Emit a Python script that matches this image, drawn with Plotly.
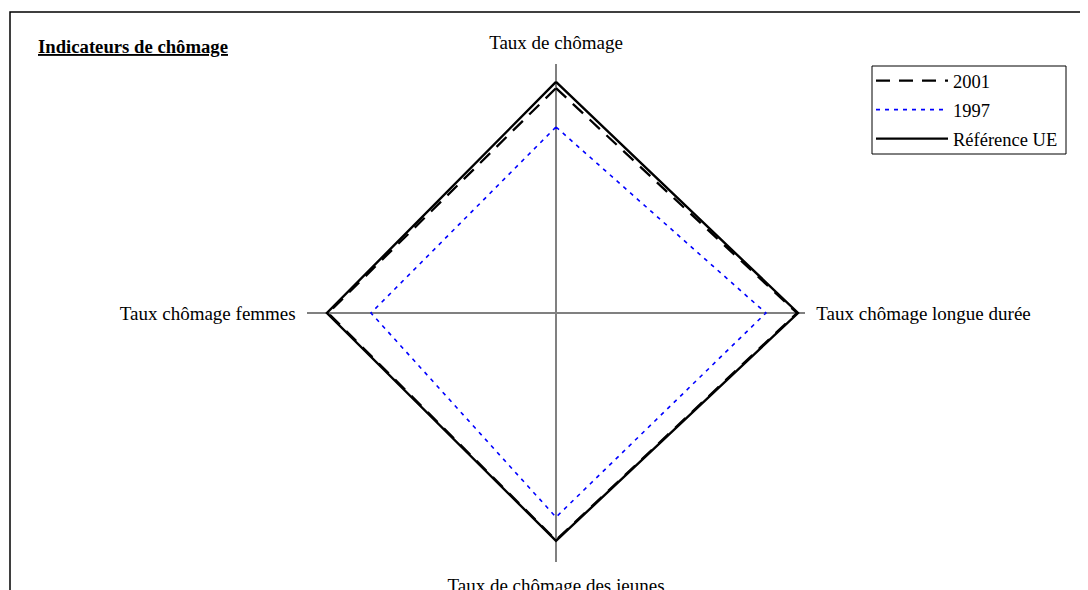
import plotly.graph_objects as go

categories = ["Taux de chômage", "Taux chômage longue durée", "Taux de chômage des jeunes", "Taux chômage femmes"]
values_2001 = [90.3, 96.8, 91.2, 91.5]
values_1997 = [74.7, 84.3, 82.0, 74.3]
values_ue = [92.8, 97.2, 91.5, 92.0]
series_names = ["2001", "1997", "Référence UE"]

W, H = 1088, 590
OFF = 8  # page body margin
cx, cy, R = 556 - OFF, 313 - OFF, 249

def closed(v):
    return list(v) + [v[0]]

theta = closed(categories)

fig = go.Figure()
fig.add_trace(go.Scatterpolar(r=closed(values_2001), theta=theta, mode="lines", name=series_names[0],
                              legendgroup="a",
                              line=dict(color="black", width=2.3, dash="14px,9px")))
fig.add_trace(go.Scatterpolar(r=closed(values_1997), theta=theta, mode="lines", name=series_names[1],
                              legendgroup="b",
                              line=dict(color="#0000FF", width=1.6, dash="4px,5px")))
fig.add_trace(go.Scatterpolar(r=closed(values_ue), theta=theta, mode="lines", name=series_names[2],
                              legendgroup="c",
                              line=dict(color="black", width=2.4)))

font = "Liberation Serif, Times New Roman, serif"
fig.update_layout(
    width=W, height=H,
    margin=dict(l=0, r=0, t=0, b=0),
    paper_bgcolor="white",
    plot_bgcolor="white",
    font=dict(family=font, size=19, color="black"),
    polar=dict(
        domain=dict(x=[(cx - R) / W, (cx + R) / W], y=[1 - (cy + R) / H, 1 - (cy - R) / H]),
        bgcolor="white",
        radialaxis=dict(range=[0, 100], showgrid=False, showline=False, showticklabels=False, ticks=""),
        angularaxis=dict(rotation=90, direction="clockwise", showline=False, showgrid=True,
                         gridcolor="#808080", gridwidth=1.5, ticks="outside", ticklen=7,
                         tickcolor="rgba(0,0,0,0)",
                         tickfont=dict(family=font, size=19, color="black")),
    ),
    legend=dict(x=(871 - OFF) / W, y=1 - (62 - OFF) / H, xanchor="left", yanchor="top",
                borderwidth=0, bgcolor="rgba(0,0,0,0)", traceorder="grouped", tracegroupgap=2,
                font=dict(family=font, size=18.5), itemwidth=72),
    showlegend=True,
)
fig.add_shape(type="rect", xref="paper", yref="paper",
              x0=(10 - OFF) / W, x1=1.05, y0=-0.05, y1=1 - (12 - OFF) / H,
              line=dict(color="black", width=1.5), layer="below")
fig.add_shape(type="rect", xref="paper", yref="paper",
              x0=(872 - OFF) / W, x1=(1066 - OFF) / W, y0=1 - (154 - OFF) / H, y1=1 - (66 - OFF) / H,
              line=dict(color="black", width=1), fillcolor="white", layer="below")
fig.add_annotation(xref="paper", yref="paper", x=(36 - OFF) / W, y=1 - (47 - OFF) / H,
                   xanchor="left", yanchor="middle",
                   text="<b><u>Indicateurs de chômage</u></b>", showarrow=False,
                   font=dict(family=font, size=18.7, color="black"))

fig.write_html("out.html")
